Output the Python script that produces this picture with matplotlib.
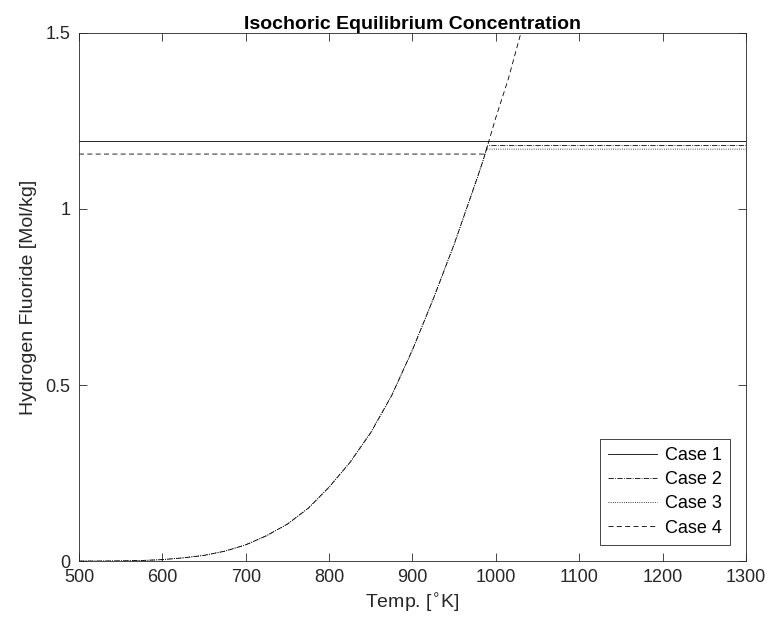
import numpy as np
import matplotlib.pyplot as plt

plt.rcParams['font.family'] = ['Liberation Sans', 'DejaVu Sans']

# equilibrium curve
temp = [500, 525, 550, 575, 600, 625, 650, 675, 700, 725, 750, 775, 800, 825,
        850, 875, 900, 925, 950, 975, 985, 1000, 1015, 1030]
hf_eq = [0.0, 0.0, 0.0005, 0.0015, 0.004, 0.009, 0.016, 0.028, 0.046, 0.072,
         0.105, 0.15, 0.21, 0.28, 0.365, 0.47, 0.60, 0.745, 0.90, 1.07, 1.14,
         1.26, 1.37, 1.50]

# caps for each case
case_levels = [1.193, 1.180, 1.170, 1.156]
t_min, t_max = 500, 1300
case_names = ['Case 1', 'Case 2', 'Case 3', 'Case 4']


def main():
    fig = plt.figure(figsize=(7.7, 6.34), dpi=100)
    ax = fig.add_axes([0.1026, 0.1151, 0.8662, 0.8329])

    t = np.array(temp, dtype=float)
    c = np.array(hf_eq)

    # case 1: flat line
    ax.plot([t_min, t_max], [case_levels[0]] * 2, '-', color='k', lw=0.6,
            label=case_names[0])

    # cases 2 and 3: curve capped at their level
    for lvl, ls, name in [(case_levels[1], '-.', case_names[1]),
                          (case_levels[2], ':', case_names[2])]:
        tt = np.append(t[c < lvl], [np.interp(lvl, c, t), t_max])
        cc = np.append(c[c < lvl], [lvl, lvl])
        ax.plot(tt, cc, ls, color='k', lw=0.6, label=name)

    # case 4: flat level up to the crossing, then the curve above it
    lvl = case_levels[3]
    tx = np.interp(lvl, c, t)
    tt = np.concatenate([[t_min, tx], t[c > lvl]])
    cc = np.concatenate([[lvl, lvl], c[c > lvl]])
    ax.plot(tt, cc, '--', color='k', lw=0.6, dashes=(6, 4), label=case_names[3])

    ax.set_xlim(t_min, t_max)
    ax.set_ylim(0, 1.5)
    ax.set_xticks(range(500, 1301, 100))
    ax.set_yticks([0, 0.5, 1, 1.5])
    ax.set_yticklabels(['0', '0.5', '1', '1.5'])
    ax.tick_params(direction='in', top=True, right=True, labelsize=13,
                   colors='#262626', length=6, width=0.6, pad=6)
    for s in ax.spines.values():
        s.set_color('#262626')
        s.set_linewidth(0.6)

    ax.set_title('Isochoric Equilibrium Concentration', fontsize=14,
                 fontweight='bold', pad=3)
    ax.set_xlabel(r'Temp. [$^{\circ}$K]', fontsize=14, color='#262626',
                  labelpad=4)
    ax.set_ylabel('Hydrogen Fluoride [Mol/kg]', fontsize=14, color='#262626',
                  labelpad=6)

    leg = ax.legend(loc='lower right', fontsize=13, fancybox=False,
                    edgecolor='#262626', framealpha=1, handlelength=2.7,
                    handletextpad=0.45, borderaxespad=0.9, labelspacing=0.4,
                    borderpad=0.45)
    leg.get_frame().set_linewidth(0.6)

    fig.savefig('out.png', dpi=100)


if __name__ == "__main__":
    main()
